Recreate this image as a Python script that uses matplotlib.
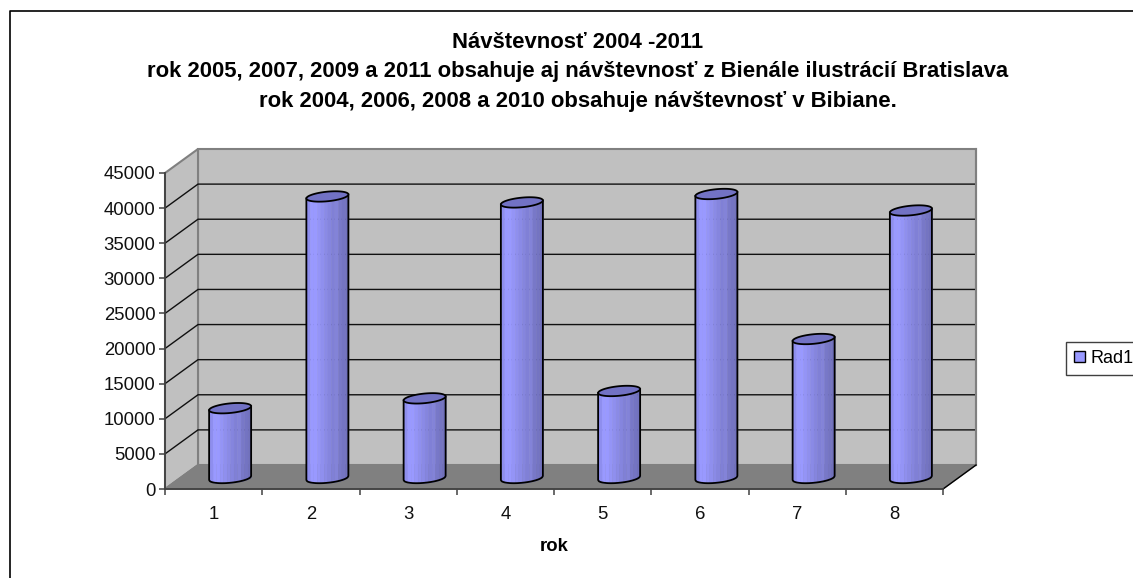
import numpy as np
import matplotlib
matplotlib.use("Agg")
import matplotlib.pyplot as plt
from matplotlib.lines import Line2D
from matplotlib.patches import Patch, Polygon

plt.rcParams['font.family'] = ['Liberation Sans', 'DejaVu Sans']

categories = ['1', '2', '3', '4', '5', '6', '7', '8']
values = [9800, 39950, 11200, 39100, 12250, 40300, 19650, 37950]
y_ticks = [0, 5000, 10000, 15000, 20000, 25000, 30000, 35000, 40000, 45000]
series_name = 'Rad1'
title_lines = ['Návštevnosť 2004 -2011',
               'rok 2005, 2007, 2009 a 2011 obsahuje aj návštevnosť z Bienále ilustrácií Bratislava',
               'rok 2004, 2006, 2008 a 2010 obsahuje návštevnosť v Bibiane.']
x_title = 'rok'

W, H = 1133, 578
band_colors = ['#8E8EEE', '#9999FF', '#9999FF', '#9494F6', '#8F8FEE', '#8A8AE6',
               '#8585DE', '#8080D6', '#8383D8', '#7878C8', '#7474C2', '#7070BC']

fig = plt.figure(figsize=(W / 100, H / 100), dpi=100, facecolor='white')
ax = fig.add_axes([165 / W, (H - 489) / H, 778 / W, 316 / H])
ax.set_xlim(0.5, 8.5)
ax.set_ylim(0, 45000)
ax.patch.set_visible(False)

# depth of the fake 3d box, in data units
dx = 33 / 97.25
dy = 24 / (316 / 45000)
xa, xb = 0.5, 8.5
top = 45000

ax.add_patch(Polygon([(xa + dx, dy), (xb + dx, dy), (xb + dx, top + dy), (xa + dx, top + dy)],
                     fc='#C0C0C0', ec='#808080', lw=1.5, clip_on=False, zorder=1))
ax.add_patch(Polygon([(xa, 0), (xa + dx, dy), (xa + dx, top + dy), (xa, top)],
                     fc='#C0C0C0', ec='#808080', lw=1.5, clip_on=False, zorder=1))
ax.add_patch(Polygon([(xa, 0), (xb, 0), (xb + dx, dy), (xa + dx, dy)],
                     fc='#808080', ec='#808080', lw=1, clip_on=False, zorder=2))
for v in y_ticks[1:-1]:
    ax.plot([xa, xa + dx, xb + dx], [v, v + dy, v + dy], color='#101010', lw=1,
            clip_on=False, zorder=1.5, solid_joinstyle='miter')
ax.plot([xa, xa + dx], [0, dy], color='#808080', lw=1, clip_on=False, zorder=3)
ax.plot([xb, xb + dx], [0, dy], color='black', lw=1, clip_on=False, zorder=3)
ax.plot([xb + dx, xb + dx], [dy, top + dy], color='#808080', lw=1.5, clip_on=False, zorder=1.5)

# cylinders
hw = 21 / 97.25
hh = 4.8 / (316 / 45000)
tilt = 2 / (316 / 45000)
edges = np.linspace(-1, 1, len(band_colors) + 1)
for i, v in enumerate(values):
    cx = i + 1 + dx / 2
    base = dy / 2 - 1 / (316 / 45000)
    cap = dy / 2 + v
    for j, c in enumerate(band_colors):
        u = np.linspace(edges[j], edges[j + 1], 12)
        low = -hh * np.sqrt(1 - u ** 2) + tilt * u
        ax.fill_between(cx + hw * u, base + low, cap + low, color=c, lw=0.3, clip_on=False, zorder=4)
    u = np.linspace(-1, 1, 60)
    low = -hh * np.sqrt(1 - u ** 2) + tilt * u
    ax.plot(np.r_[cx - hw, cx + hw * u, cx + hw], np.r_[cap - tilt, base + low, cap + tilt],
            color='black', lw=1.3, clip_on=False, zorder=5)
    t = np.linspace(0, 2 * np.pi, 80)
    ax.add_patch(Polygon(np.c_[cx + hw * np.cos(t), cap + hh * np.sin(t) + tilt * np.cos(t)],
                         fc='#7272C4', ec='black', lw=1.3, clip_on=False, zorder=6))

# axes
for s in ['top', 'right']:
    ax.spines[s].set_visible(False)
for s in ['left', 'bottom']:
    ax.spines[s].set_color('#404040')
    ax.spines[s].set_linewidth(1.3)
    ax.spines[s].set_zorder(7)
ax.set_yticks(y_ticks)
ax.set_yticklabels([str(v) for v in y_ticks], fontsize=13.3, color='#101010')
ax.set_xticks(np.arange(0.5, 9))
ax.set_xticklabels([])
ax.set_xticks(np.arange(1, 9), labels=categories, minor=True, fontsize=13.3, color='#101010')
ax.tick_params(axis='x', which='minor', length=0, pad=12)
ax.tick_params(axis='both', which='major', length=4.5, width=1.2, color='#505050', pad=2.5)
ax.set_xlabel(x_title, fontweight='bold', fontsize=13.3, labelpad=11)

for line, y in zip(title_lines, [42.5, 72, 102]):
    fig.text(578 / W, 1 - y / H, line, ha='center', va='center', fontsize=15.95, fontweight='bold')

leg = fig.legend(handles=[Patch(fc='#9999FF', ec='black', lw=1, label=series_name)],
                 loc='center left', bbox_to_anchor=(1066 / W, 1 - 358.5 / H), fontsize=13,
                 frameon=True, fancybox=False, edgecolor='#404040', framealpha=1,
                 borderpad=0.44, borderaxespad=0, handlelength=0.62, handleheight=0.62,
                 handletextpad=0.3, labelspacing=0)
leg.get_frame().set_linewidth(1)

# outer chart border, cut by the image on the right and at the bottom
fig.add_artist(Line2D([9.5 / W, 9.5 / W, 1], [0, 1 - 10.5 / H, 1 - 10.5 / H], color='black', lw=1.2))

fig.savefig('out.png', dpi=100, facecolor='white')
